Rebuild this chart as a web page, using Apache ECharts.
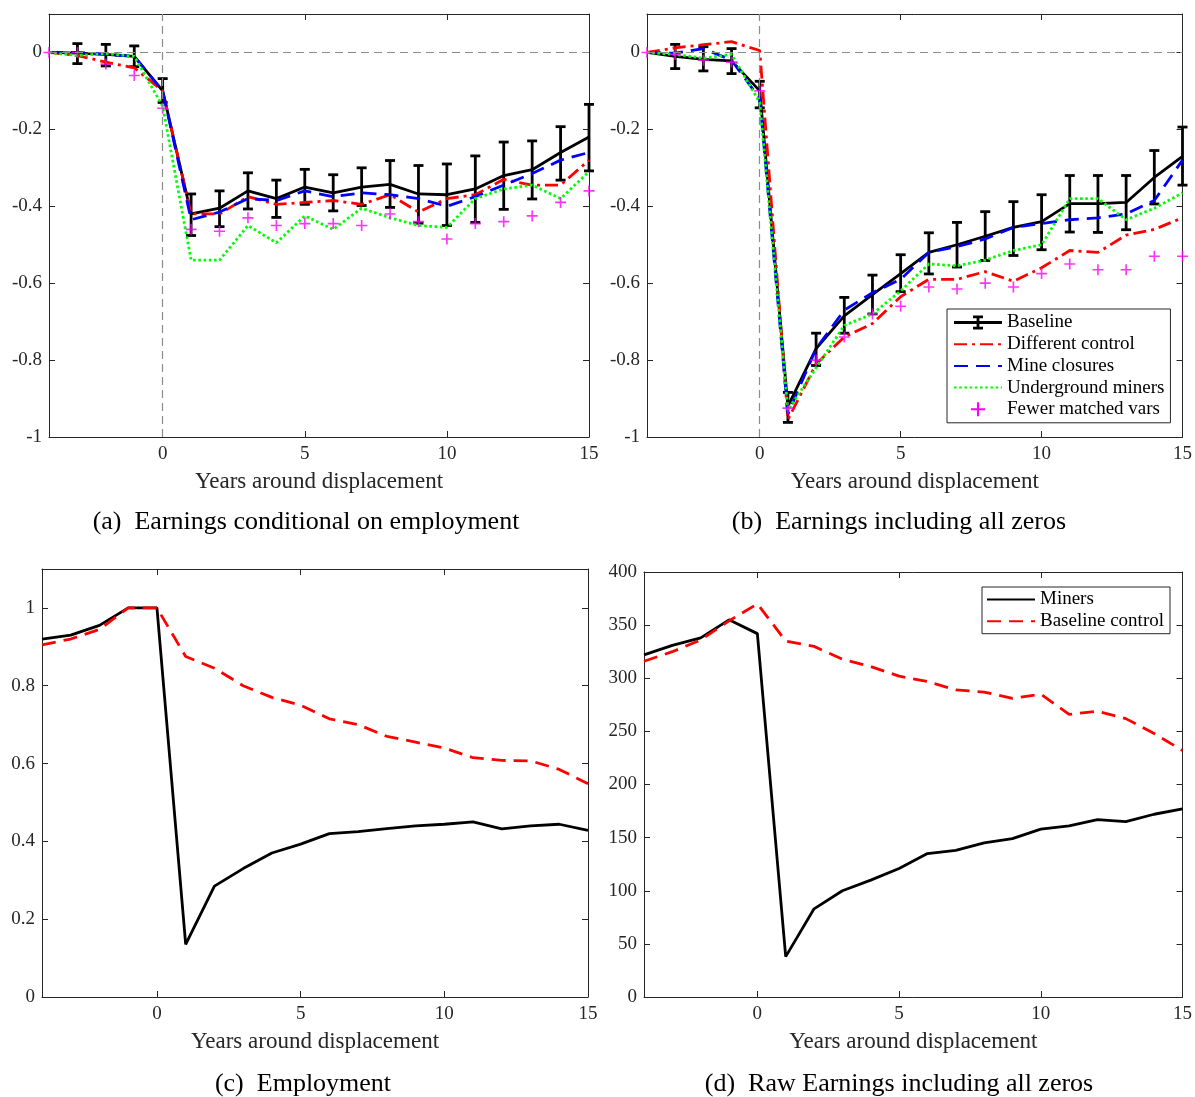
<!DOCTYPE html>
<html>
<head>
<meta charset="utf-8">
<script src="https://cdn.jsdelivr.net/npm/echarts@6/dist/echarts.min.js"></script>
<style>
html,body{margin:0;padding:0;background:#fff;}
#chart{width:1195px;height:1097px;}
</style>
</head>
<body>
<div id="chart"></div>
<script>
// ---------------- DATA ----------------
const years = [-4,-3,-2,-1,0,1,2,3,4,5,6,7,8,9,10,11,12,13,14,15];
const xTicks = [0,5,10,15];
const yTicksAB = [-1,-0.8,-0.6,-0.4,-0.2,0];
const yTicksC = [0,0.2,0.4,0.6,0.8,1];

// (a) Earnings conditional on employment
const aBase  = [0,-0.002,-0.005,-0.01,-0.1,-0.42,-0.405,-0.36,-0.38,-0.35,-0.365,-0.35,-0.343,-0.368,-0.37,-0.355,-0.32,-0.305,-0.26,-0.22];
const aHi    = [null,0.023,0.021,0.017,-0.068,-0.368,-0.36,-0.313,-0.332,-0.304,-0.318,-0.3,-0.281,-0.294,-0.29,-0.269,-0.233,-0.23,-0.193,-0.135];
const aLo    = [null,-0.029,-0.035,-0.037,-0.13,-0.476,-0.453,-0.407,-0.429,-0.395,-0.412,-0.398,-0.403,-0.444,-0.45,-0.442,-0.408,-0.381,-0.332,-0.308];
const aDiff  = [0,-0.008,-0.025,-0.04,-0.1,-0.42,-0.42,-0.375,-0.395,-0.39,-0.385,-0.395,-0.37,-0.415,-0.38,-0.37,-0.33,-0.345,-0.345,-0.28];
const aMine  = [0,0,-0.005,-0.01,-0.1,-0.435,-0.415,-0.38,-0.385,-0.36,-0.375,-0.365,-0.37,-0.38,-0.4,-0.375,-0.345,-0.315,-0.28,-0.26];
const aUnder = [0,-0.008,-0.003,-0.01,-0.14,-0.54,-0.54,-0.45,-0.495,-0.425,-0.46,-0.405,-0.43,-0.45,-0.455,-0.38,-0.355,-0.345,-0.38,-0.31];
const aFewer = [0,0,-0.03,-0.06,-0.145,-0.46,-0.465,-0.43,-0.45,-0.445,-0.445,-0.45,-0.42,-0.44,-0.485,-0.445,-0.44,-0.425,-0.39,-0.36];

// (b) Earnings including all zeros
const bBase  = [0,-0.01,-0.018,-0.022,-0.1,-0.92,-0.77,-0.685,-0.63,-0.575,-0.52,-0.5,-0.478,-0.455,-0.44,-0.393,-0.393,-0.39,-0.325,-0.27];
const bHi    = [null,0.021,0.015,0.01,-0.075,-0.884,-0.73,-0.637,-0.579,-0.526,-0.469,-0.442,-0.414,-0.388,-0.37,-0.32,-0.32,-0.32,-0.255,-0.194];
const bLo    = [null,-0.042,-0.048,-0.055,-0.144,-0.962,-0.814,-0.73,-0.68,-0.622,-0.576,-0.558,-0.541,-0.528,-0.513,-0.467,-0.468,-0.461,-0.394,-0.345];
const bDiff  = [0,0.012,0.02,0.028,0.005,-0.955,-0.81,-0.74,-0.705,-0.635,-0.59,-0.59,-0.57,-0.595,-0.56,-0.515,-0.52,-0.475,-0.46,-0.43];
const bMine  = [0,-0.002,0.01,-0.02,-0.12,-0.94,-0.77,-0.67,-0.625,-0.59,-0.52,-0.505,-0.485,-0.455,-0.445,-0.435,-0.43,-0.42,-0.385,-0.28];
const bUnder = [0,-0.005,-0.015,-0.005,-0.13,-0.93,-0.82,-0.71,-0.68,-0.62,-0.55,-0.555,-0.54,-0.515,-0.5,-0.38,-0.38,-0.435,-0.405,-0.365];
const bFewer = [0,-0.005,-0.02,-0.025,-0.1,-0.925,-0.8,-0.74,-0.68,-0.66,-0.61,-0.615,-0.6,-0.61,-0.575,-0.55,-0.565,-0.565,-0.53,-0.53];

// (c) Employment
const cMiners  = [0.92,0.93,0.955,1,1,0.135,0.285,0.33,0.37,0.393,0.42,0.425,0.433,0.44,0.444,0.45,0.432,0.44,0.444,0.428];
const cControl = [0.905,0.92,0.945,1,1,0.875,0.845,0.8,0.77,0.75,0.715,0.7,0.67,0.655,0.64,0.615,0.608,0.607,0.585,0.548];

// (d) Raw earnings including all zeros
const dMiners  = [322,331,338,355,342,38,83,100,110,121,135,138,145,149,158,161,167,165,172,177];
const dControl = [316,325,336,354,370,335,330,318,311,302,297,289,287,281,285,266,269,262,248,232];

const captions = ['(a)  Earnings conditional on employment','(b)  Earnings including all zeros','(c)  Employment','(d)  Raw Earnings including all zeros'];
const xTitle = 'Years around displacement';

// ---------------- STYLE ----------------
const FONT = 'Liberation Serif';
const AX = '#262626';
const LW = 2.8;
const DASH = [14, 8];
const DASHDOT = [13, 5, 3, 5];
const DOT = [2.6, 2.6];
const PLUS = 'path://M4.25,0H5.75V4.25H10V5.75H5.75V10H4.25V5.75H0V4.25H4.25Z';
const IBEAM = 'path://M0,5.6H48V8.4H0Z M22.6,0H25.4V14H22.6Z M19,0H29V2.8H19Z M19,11.2H29V14H19Z';

const grids = [
  {left:49, top:14, width:540, height:423},
  {left:647, top:14, width:537, height:423},
  {left:42, top:569, width:546, height:428},
  {left:644, top:572, width:540, height:425}
];
const yCfg = [
  {min:-1, max:0.1, ticks:yTicksAB},
  {min:-1, max:0.1, ticks:yTicksAB},
  {min:0, max:1.1, ticks:yTicksC},
  {min:0, max:400, interval:50}
];

function fmt(v){ return String(Math.round(v*10)/10); }

const xAxes = [], yAxes = [];
grids.forEach((g,i)=>{
  xAxes.push({
    type:'value', gridIndex:i, min:-4, max:15, position:'bottom',
    name: xTitle, nameLocation:'middle', nameGap:33,
    nameTextStyle:{fontFamily:FONT, fontSize:23, color:AX},
    axisLine:{show:true, onZero:false, lineStyle:{color:AX, width:1}},
    axisTick:{show:true, inside:true, length:6, customValues:xTicks, lineStyle:{color:AX}},
    axisLabel:{show:true, customValues:xTicks, margin:8, fontFamily:FONT, fontSize:19, color:AX},
    splitLine:{show:false}
  });
  xAxes.push({
    type:'value', gridIndex:i, min:-4, max:15, position:'top',
    axisLine:{show:true, onZero:false, lineStyle:{color:AX, width:1}},
    axisTick:{show:true, inside:true, length:6, customValues:xTicks, lineStyle:{color:AX}},
    axisLabel:{show:false}, splitLine:{show:false}
  });
  const yc = yCfg[i];
  const tickOpt = yc.ticks ? {customValues:yc.ticks} : {};
  const yBase = {type:'value', gridIndex:i, min:yc.min, max:yc.max};
  if (yc.interval) yBase.interval = yc.interval;
  yAxes.push(Object.assign({}, yBase, {
    position:'left',
    axisLine:{show:true, onZero:false, lineStyle:{color:AX, width:1}},
    axisTick:Object.assign({show:true, inside:true, length:6, lineStyle:{color:AX}}, tickOpt),
    axisLabel:Object.assign({show:true, margin:7, fontFamily:FONT, fontSize:19, color:AX,
      formatter: yc.interval ? (v=>String(v)) : fmt}, tickOpt),
    splitLine:{show:false}
  }));
  yAxes.push(Object.assign({}, yBase, {
    position:'right',
    axisLine:{show:true, onZero:false, lineStyle:{color:AX, width:1}},
    axisTick:Object.assign({show:true, inside:true, length:6, lineStyle:{color:AX}}, tickOpt),
    axisLabel:{show:false}, splitLine:{show:false}
  }));
});

function pairs(vals){ return years.map((x,i)=>[x, vals[i]]); }
function bars(lo, hi){ return years.map((x,i)=>[x, lo[i], hi[i]]).filter(d=>d[1]!==null); }

function lineSeries(name, vals, k, color, dash, extra){
  return Object.assign({
    type:'line', name:name, xAxisIndex:2*k, yAxisIndex:2*k, data:pairs(vals),
    symbol:'none', showSymbol:false, smooth:false, animation:false,
    itemStyle:{color:color},
    lineStyle:{color:color, width:LW, type:dash, cap:'butt'}
  }, extra||{});
}
function errSeries(lo, hi, k){
  return {
    type:'custom', name:'Baseline', xAxisIndex:2*k, yAxisIndex:2*k, data:bars(lo,hi),
    animation:false, z:3,
    itemStyle:{color:'#000'},
    renderItem:function(params, api){
      const x = api.value(0), l = api.value(1), h = api.value(2);
      const p1 = api.coord([x, h]), p2 = api.coord([x, l]);
      const hw = 5;
      const st = {stroke:'#000', lineWidth:LW, fill:null};
      return {type:'group', children:[
        {type:'line', shape:{x1:p1[0], y1:p1[1], x2:p2[0], y2:p2[1]}, style:st},
        {type:'line', shape:{x1:p1[0]-hw, y1:p1[1], x2:p1[0]+hw, y2:p1[1]}, style:st},
        {type:'line', shape:{x1:p2[0]-hw, y1:p2[1], x2:p2[0]+hw, y2:p2[1]}, style:st}
      ]};
    }
  };
}
function plusSeries(name, vals, k){
  return {
    type:'scatter', name:name, xAxisIndex:2*k, yAxisIndex:2*k, data:pairs(vals),
    symbol:PLUS, symbolSize:11, animation:false, z:4,
    itemStyle:{color:'#FF00FF'}
  };
}
const refLine = {
  silent:true, symbol:'none', animation:false,
  label:{show:false},
  lineStyle:{color:'#8c8c8c', width:1.2, type:[8,5]},
  data:[{yAxis:0},{xAxis:0}]
};

const series = [];
[[aBase,aLo,aHi,aDiff,aMine,aUnder,aFewer],[bBase,bLo,bHi,bDiff,bMine,bUnder,bFewer]].forEach((arr,k)=>{
  const [base,lo,hi,diff,mine,under,fewer] = arr;
  series.push(lineSeries('Baseline', base, k, '#000000', 'solid', {markLine:refLine, z:3}));
  series.push(errSeries(lo, hi, k));
  series.push(lineSeries('Different control', diff, k, '#FF0000', DASHDOT, {z:3}));
  series.push(lineSeries('Mine closures', mine, k, '#0000FF', DASH, {z:3}));
  series.push(lineSeries('Underground miners', under, k, '#00FF00', DOT, {z:3}));
  series.push(plusSeries('Fewer matched vars', fewer, k));
});
series.push(lineSeries('Miners', cMiners, 2, '#000000', 'solid'));
series.push(lineSeries('Baseline control', cControl, 2, '#FF0000', DASH));
series.push(lineSeries('Miners', dMiners, 3, '#000000', 'solid'));
series.push(lineSeries('Baseline control', dControl, 3, '#FF0000', DASH));

const capPos = [[301,504],[894,504],[298,1066],[894,1066]];
const titles = captions.map((t,i)=>({
  text:t, left:capPos[i][0], top:capPos[i][1], textAlign:'center',
  textStyle:{fontFamily:FONT, fontSize:26, fontWeight:'normal', color:'#000'}
}));

const legendText = {fontFamily:FONT, fontSize:19, color:'#000'};
const option = {
  backgroundColor:'#ffffff',
  animation:false,
  title:titles,
  grid:grids,
  xAxis:xAxes,
  yAxis:yAxes,
  legend:[
    {
      orient:'vertical', left:947, top:309,
      itemWidth:48, itemHeight:14, itemGap:2.7,
      padding:[4,6,4,6],
      borderColor:AX, borderWidth:1, backgroundColor:'#fff',
      selectedMode:false,
      textStyle:legendText,
      itemStyle:{opacity:0},
      data:[
        {name:'Baseline', icon:IBEAM, itemStyle:{opacity:1, color:'#000'}},
        {name:'Different control'},
        {name:'Mine closures'},
        {name:'Underground miners'},
        {name:'Fewer matched vars', itemStyle:{opacity:1, color:'#FF00FF'}}
      ]
    },
    {
      orient:'vertical', left:982, top:587,
      itemWidth:48, itemHeight:14, itemGap:2.7,
      padding:[3,6,3,4],
      borderColor:AX, borderWidth:1, backgroundColor:'#fff',
      selectedMode:false,
      textStyle:legendText,
      itemStyle:{opacity:0},
      data:[{name:'Miners'},{name:'Baseline control'}]
    }
  ],
  series:series
};

const chart = echarts.init(document.getElementById('chart'), null, {renderer:'canvas', width:1195, height:1097});
chart.setOption(option);
</script>
</body>
</html>
